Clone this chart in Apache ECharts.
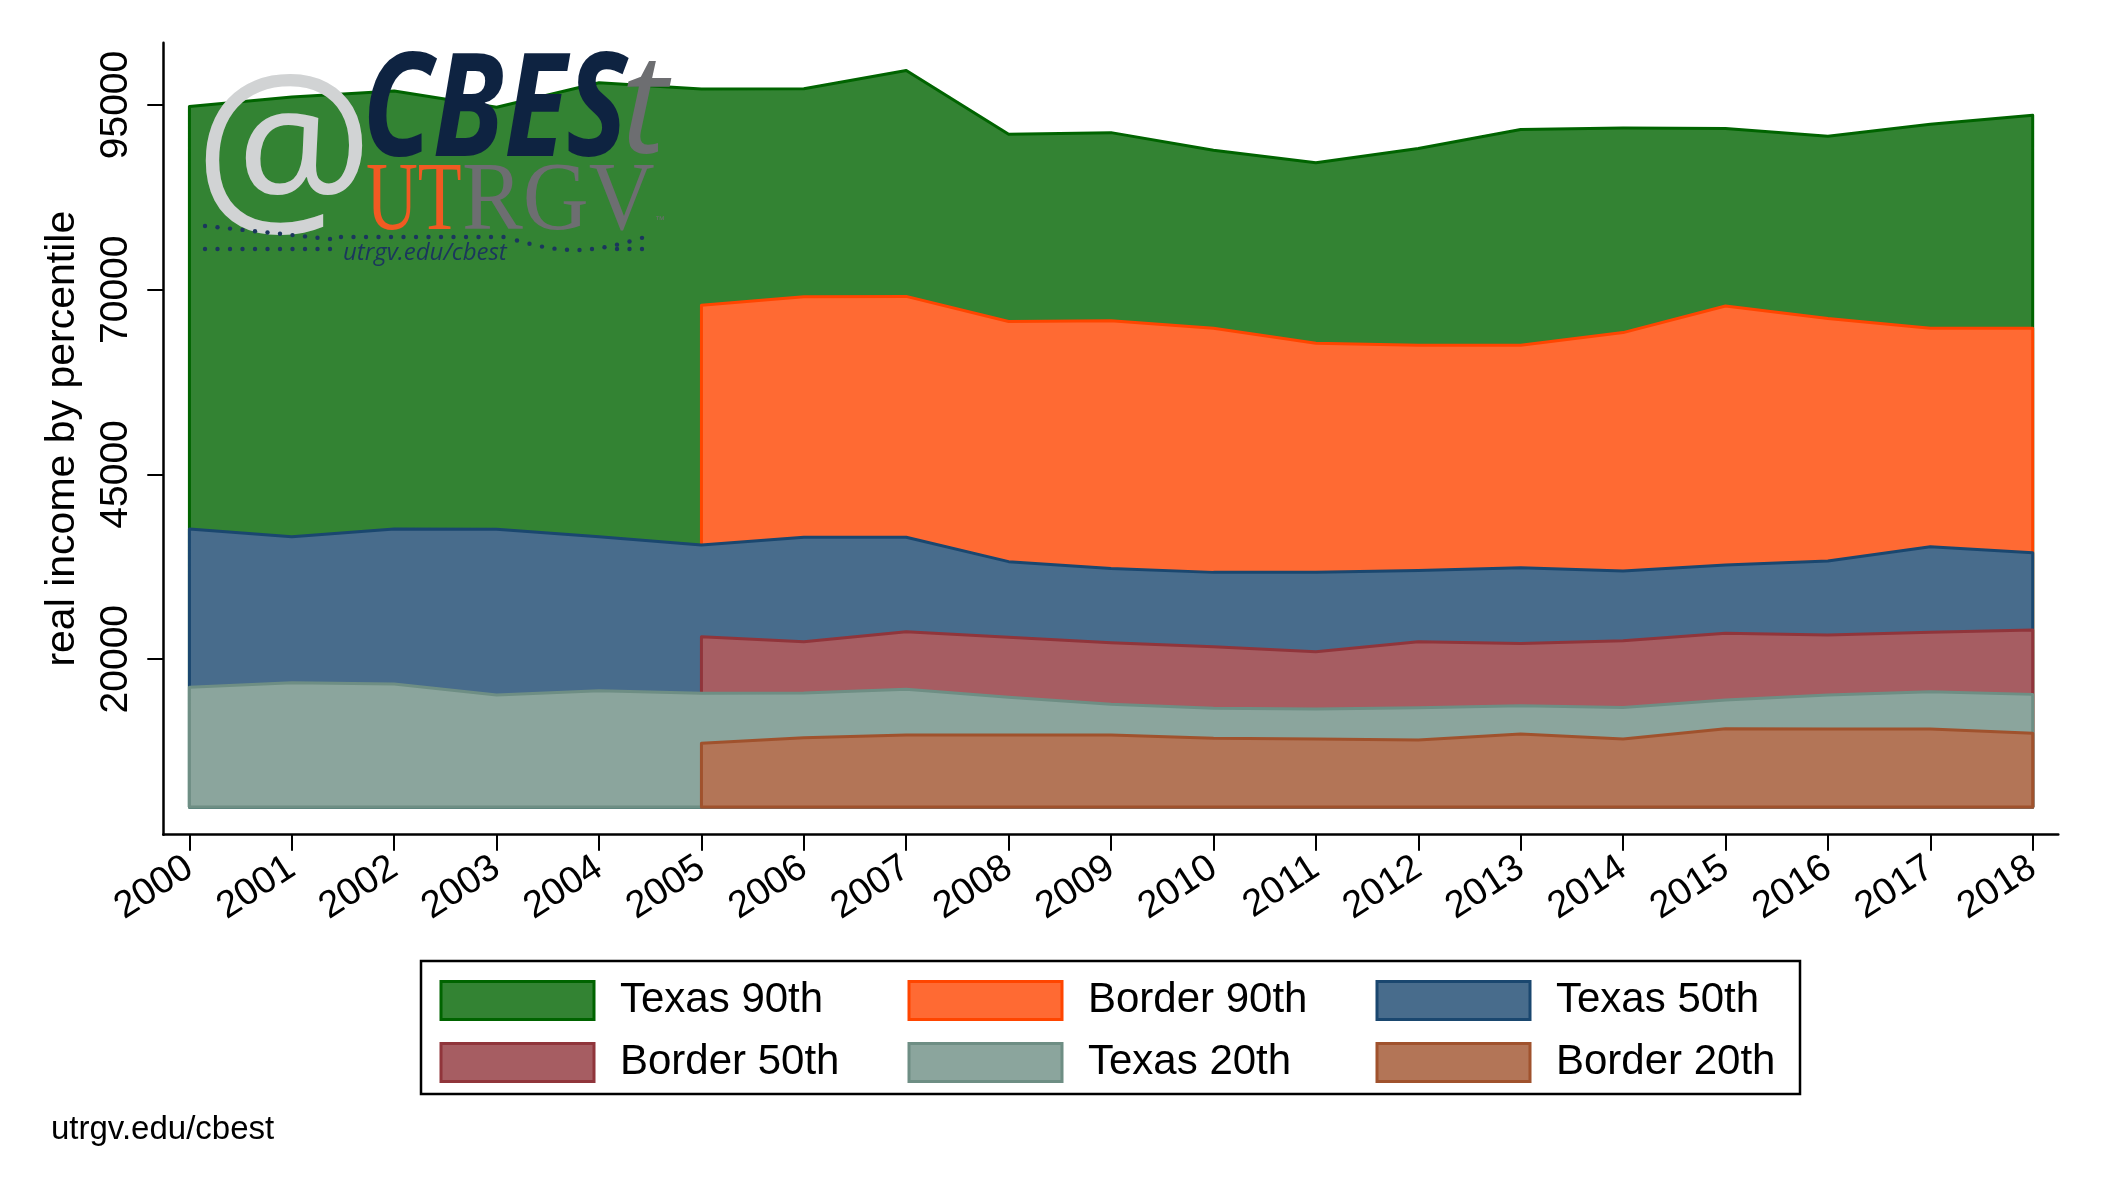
<!DOCTYPE html>
<html><head><meta charset="utf-8">
<script src="https://cdn.jsdelivr.net/npm/echarts@6/dist/echarts.min.js"></script>
<style>html,body{margin:0;padding:0;background:#fff}#c{width:2101px;height:1201px}</style>
</head><body><div id="c"></div>
<script>
// ---- data ----
const years = [2000,2001,2002,2003,2004,2005,2006,2007,2008,2009,2010,2011,2012,2013,2014,2015,2016,2017,2018];
const borderYears = [2005,2006,2007,2008,2009,2010,2011,2012,2013,2014,2015,2016,2017,2018];
const texas90  = [94800,96070,96900,94700,98000,97150,97200,99680,91040,91260,88880,87170,89110,91670,91890,91820,90770,92390,93600];
const border90 = [67900,69050,69100,65700,65800,64800,62750,62500,62500,64200,67800,66100,64800,64800];
const texas50  = [37610,36580,37610,37570,36580,35460,36500,36500,33200,32290,31750,31750,32020,32380,31930,32740,33290,35230,34410];
const border50 = [23050,22370,23730,22960,22230,21690,21020,22370,22140,22500,23500,23280,23640,23950];
const texas20  = [16200,16820,16640,15150,15740,15380,15420,15930,14840,13890,13360,13270,13440,13710,13460,14480,15150,15600,15240];
const border20 = [8620,9380,9740,9740,9740,9290,9200,9070,9880,9200,10600,10550,10550,9970];
const yTicks = [20000,45000,70000,95000];
const yTitle = 'real income by percentile';
const footer = 'utrgv.edu/cbest';

const FONT = '"Liberation Sans", Arial, Helvetica, sans-serif';

const styles = {
  'Texas 90th':  {fill:'#338333', stroke:'#006400'},
  'Border 90th': {fill:'#FF6A33', stroke:'#FF4500'},
  'Texas 50th':  {fill:'#486C8C', stroke:'#1A476F'},
  'Border 50th': {fill:'#A65D62', stroke:'#90353B'},
  'Texas 20th':  {fill:'#8BA59D', stroke:'#6E8E84'},
  'Border 20th': {fill:'#B37557', stroke:'#A0522D'}
};

function areaSeries(name, xs, ys) {
  const st = styles[name];
  const data = xs.map((x, i) => [x, ys[i]]);
  return {
    type: 'custom', name, data, clip: false, silent: true,
    encode: {x: 0, y: 1},
    itemStyle: {color: st.fill, borderColor: st.stroke, borderWidth: 3},
    renderItem(params, api) {
      if (params.dataIndex !== 0) return null;
      const pts = data.map(d => api.coord(d));
      pts.push(api.coord([xs[xs.length - 1], 0]));
      pts.push(api.coord([xs[0], 0]));
      return {type: 'polygon', shape: {points: pts},
        style: {fill: st.fill, stroke: st.stroke, lineWidth: 3, lineJoin: 'round'}};
    }
  };
}

function legendCol(left, names) {
  return {
    orient: 'vertical', left: left, top: 979.5, padding: 0, itemGap: 20,
    itemWidth: 153, itemHeight: 38, icon: 'rect', selectedMode: false,
    textStyle: {fontSize: 42, fontFamily: FONT, color: '#000', lineHeight: 38, padding: [0, 0, 0, 21]},
    data: names.map(n => ({name: n, icon: 'rect',
      itemStyle: {color: styles[n].fill, borderColor: styles[n].stroke, borderWidth: 3}}))
  };
}

// logo dots (decoration)
const dots = [];
function addDot(x, y) { dots.push({type: 'circle', z: 20, shape: {cx: x, cy: y, r: 2.2}, style: {fill: '#1B365D'}, silent: true}); }
for (let x = 205; x <= 330; x += 12.5) addDot(x, 226 + (x - 205) / 125 * 13);
for (let x = 341; x <= 505; x += 12.5) addDot(x, 237);
for (let x = 517; x <= 642; x += 12.5) addDot(x, 237 + 13 * Math.sin(Math.PI * (x - 505) / 140));
for (let x = 205; x <= 330; x += 12.5) addDot(x, 249);
for (let x = 617; x <= 642; x += 12.5) addDot(x, 249);

const chart = echarts.init(document.getElementById('c'), null, {renderer: 'canvas'});
chart.setOption({
  animation: false,
  backgroundColor: '#fff',
  grid: {left: 163.3, right: 42.7, top: 42.7, bottom: 366.3, outerBoundsMode: 'none'},
  xAxis: {
    type: 'value', min: 1999.745, max: 2018.25,
    axisLine: {show: true, onZero: false, lineStyle: {color: '#000', width: 2.5}},
    axisTick: {show: true, customValues: years, length: 16, lineStyle: {color: '#000', width: 2}},
    axisLabel: {customValues: years, formatter: v => String(Math.round(v)), rotate: 33, margin: 30,
      fontSize: 38, fontFamily: FONT, color: '#000'},
    splitLine: {show: false}
  },
  yAxis: {
    type: 'value', min: -3750, max: 103430,
    name: yTitle, nameLocation: 'middle', nameGap: 80,
    nameTextStyle: {fontSize: 41, fontFamily: FONT, color: '#000'},
    axisLine: {show: true, onZero: false, lineStyle: {color: '#000', width: 2.5}},
    axisTick: {show: true, customValues: yTicks, length: 16, lineStyle: {color: '#000', width: 2}},
    axisLabel: {customValues: yTicks, formatter: v => String(Math.round(v)), rotate: 90, margin: 28,
      fontSize: 39, fontFamily: FONT, color: '#000'},
    splitLine: {show: false}
  },
  legend: [
    legendCol(439.5, ['Texas 90th', 'Border 50th']),
    legendCol(907.5, ['Border 90th', 'Texas 20th']),
    legendCol(1375.5, ['Texas 50th', 'Border 20th'])
  ],
  series: [
    areaSeries('Texas 90th', years, texas90),
    areaSeries('Border 90th', borderYears, border90),
    areaSeries('Texas 50th', years, texas50),
    areaSeries('Border 50th', borderYears, border50),
    areaSeries('Texas 20th', years, texas20),
    areaSeries('Border 20th', borderYears, border20)
  ],
  graphic: [
    {type: 'rect', z: 10, silent: true, shape: {x: 421, y: 961, width: 1379, height: 133},
      style: {fill: 'none', stroke: '#000', lineWidth: 2.5}},
    {type: 'text', z: 10, silent: true, x: 51, y: 1130,
      style: {text: footer, font: '33px ' + FONT, fill: '#000', textAlign: 'left', textVerticalAlign: 'middle'}},
    // logo
    {type: 'text', z: 20, silent: true, x: 284, y: 160,
      style: {text: '@', font: '200px "Open Sans", ' + FONT, fill: '#D1D3D4', textAlign: 'center', textVerticalAlign: 'middle'}},
    {type: 'text', z: 21, silent: true, x: 362, y: 115, scaleX: 0.8,
      style: {text: 'CBES', font: 'italic bold 144px "Open Sans", ' + FONT, fill: '#0E2341', textAlign: 'left', textVerticalAlign: 'middle'}},
    {type: 'text', z: 21, silent: true, x: 621, y: 113,
      style: {text: 't', font: 'italic 140px "Open Sans", ' + FONT, fill: '#6D6E71', textAlign: 'left', textVerticalAlign: 'middle'}},
    {type: 'text', z: 21, silent: true, x: 366, y: 204, scaleX: 0.74,
      style: {text: 'UT', font: '97px "Liberation Serif", "DejaVu Serif", serif', fill: '#F15A22', textAlign: 'left', textVerticalAlign: 'middle'}},
    {type: 'text', z: 21, silent: true, x: 462, y: 204, scaleX: 0.94,
      style: {text: 'RGV', font: '97px "Liberation Serif", "DejaVu Serif", serif', fill: '#6D6E71', textAlign: 'left', textVerticalAlign: 'middle'}},
    {type: 'text', z: 21, silent: true, x: 655, y: 220,
      style: {text: '™', font: '10px ' + FONT, fill: '#6D6E71', textAlign: 'left', textVerticalAlign: 'middle'}},
    {type: 'text', z: 21, silent: true, x: 343, y: 253,
      style: {text: 'utrgv.edu/cbest', font: 'italic 24px "Open Sans", ' + FONT, fill: '#1B365D', textAlign: 'left', textVerticalAlign: 'middle'}}
  ].concat(dots)
});
</script>
</body></html>
